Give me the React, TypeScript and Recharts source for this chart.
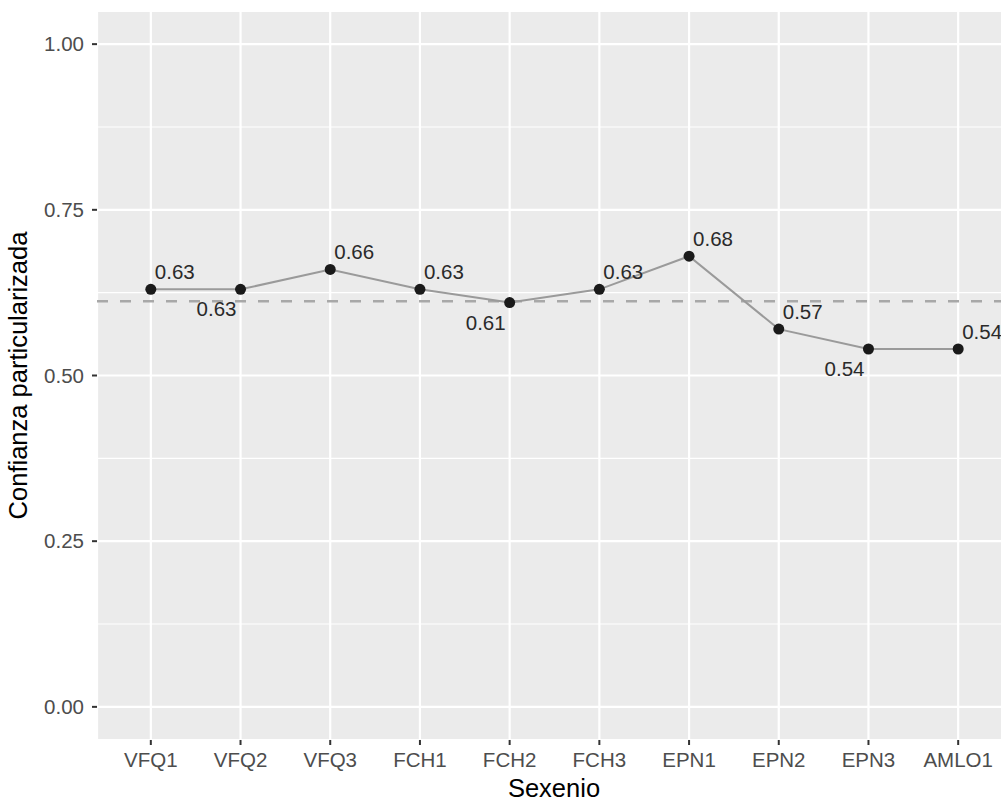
import {
  LineChart,
  Line,
  XAxis,
  YAxis,
  CartesianGrid,
  ReferenceLine,
  LabelList,
  Label,
} from "recharts"

// ── Data ───────────────────────────────────────────────────────────────────

const sexenios = ["VFQ1", "VFQ2", "VFQ3", "FCH1", "FCH2", "FCH3", "EPN1", "EPN2", "EPN3", "AMLO1"]
const confianza = [0.63, 0.63, 0.66, 0.63, 0.61, 0.63, 0.68, 0.57, 0.54, 0.54]
// where the value label sits relative to its point
const labelSide = ["up", "down", "up", "up", "down", "up", "up", "up", "down", "up"]

const yTicks = [0, 0.25, 0.5, 0.75, 1]
const yMinor = [0.125, 0.375, 0.625, 0.875]

const data = sexenios.map((name, i) => ({
  idx: i + 1,
  name,
  value: confianza[i],
  side: labelSide[i],
}))

const promedio = confianza.reduce((a, b) => a + b, 0) / confianza.length

// ── Style ──────────────────────────────────────────────────────────────────

const FONT = '"Liberation Sans", Arial, Helvetica, sans-serif'
const COLORS = {
  panel: "#EBEBEB",
  grid: "#FFFFFF",
  tickText: "#4D4D4D",
  tickLine: "#333333",
  line: "#9A9A9A",
  dot: "#1A1A1A",
  mean: "#A8A8A8",
  label: "#2A2A2A",
}

// ── Value labels (ggrepel-like placement) ─────────────────────────────────

function ValueLabel(props: any) {
  const { x, y, value, index } = props
  const up = labelSide[index] === "up"
  return (
    <text
      x={up ? x + 4 : x - 4}
      y={up ? y - 10 : y + 27}
      textAnchor={up ? "start" : "end"}
      fontFamily={FONT}
      fontSize={20.5}
      fill={COLORS.label}
    >
      {Number(value).toFixed(2)}
    </text>
  )
}

export default function App() {
  return (
    <div
      style={{
        position: "absolute",
        left: 0,
        top: 0,
        width: 1001,
        height: 801,
        overflow: "hidden",
        background: "#FFFFFF",
        fontFamily: FONT,
      }}
    >
      <LineChart
        width={1012}
        height={801}
        data={data}
        margin={{ top: 11, right: 0, bottom: 0, left: 0 }}
      >
        <CartesianGrid
          fill={COLORS.panel}
          stroke={COLORS.grid}
          strokeWidth={2.2}
          vertical
          horizontal
        />
        {yMinor.map((v) => (
          <ReferenceLine key={v} y={v} stroke={COLORS.grid} strokeWidth={1.1} />
        ))}
        <XAxis
          type="number"
          dataKey="idx"
          domain={[0.4, 10.6]}
          ticks={data.map((d) => d.idx)}
          tickFormatter={(v) => sexenios[v - 1] ?? ""}
          allowDataOverflow
          height={61}
          axisLine={false}
          tickSize={5}
          tickMargin={7}
          tickLine={{ stroke: COLORS.tickLine, strokeWidth: 2 }}
          tick={{ fill: COLORS.tickText, fontSize: 20.5, fontFamily: FONT }}
          interval={0}
        >
          <Label
            content={() => (
              <text
                x={554}
                y={797}
                textAnchor="middle"
                fontFamily={FONT}
                fontSize={25.5}
                fill="#000000"
              >
                Sexenio
              </text>
            )}
          />
        </XAxis>
        <YAxis
          type="number"
          domain={[-0.05, 1.05]}
          ticks={yTicks}
          tickFormatter={(v) => Number(v).toFixed(2)}
          allowDataOverflow
          width={97}
          axisLine={false}
          tickSize={5}
          tickMargin={8}
          tickLine={{ stroke: COLORS.tickLine, strokeWidth: 2 }}
          tick={{ fill: COLORS.tickText, fontSize: 20.5, fontFamily: FONT }}
          interval={0}
        >
          <Label
            content={() => (
              <text
                x={27}
                y={375.5}
                textAnchor="middle"
                transform="rotate(-90, 27, 375.5)"
                fontFamily={FONT}
                fontSize={25.5}
                fill="#000000"
              >
                Confianza particularizada
              </text>
            )}
          />
        </YAxis>
        <ReferenceLine
          y={promedio}
          stroke={COLORS.mean}
          strokeWidth={2.5}
          strokeDasharray="11 12"
        />
        <Line
          type="linear"
          dataKey="value"
          stroke={COLORS.line}
          strokeWidth={2}
          dot={{ r: 5.5, fill: COLORS.dot, stroke: COLORS.dot, strokeWidth: 0 }}
          activeDot={false}
          isAnimationActive={false}
        >
          <LabelList dataKey="value" content={ValueLabel} />
        </Line>
      </LineChart>
    </div>
  )
}
